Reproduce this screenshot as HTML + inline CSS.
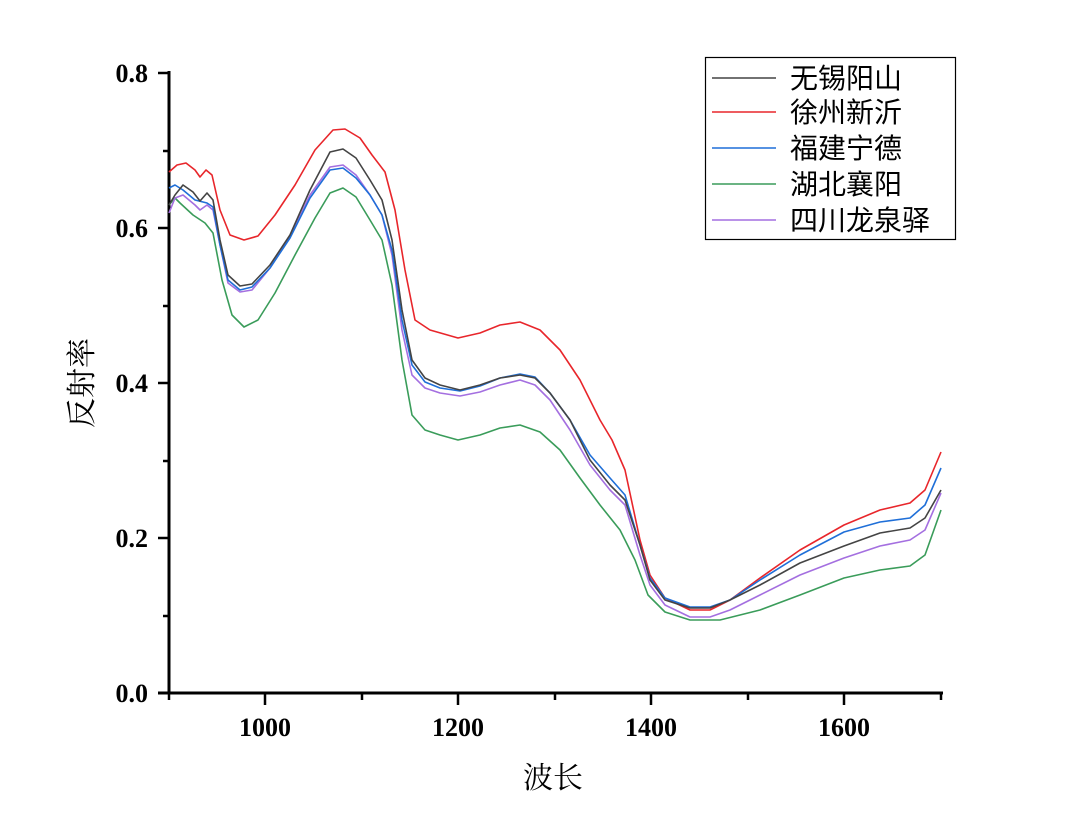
<!DOCTYPE html>
<html><head><meta charset="utf-8"><style>body{margin:0;background:#fff}</style></head><body>
<svg width="1080" height="819" xmlns="http://www.w3.org/2000/svg">
<g stroke="#000" stroke-width="3" fill="none">
<line x1="169" y1="71" x2="169" y2="694"/>
<line x1="158" y1="693" x2="943" y2="693"/>
</g>
<g stroke="#000" stroke-width="2.5">
<line x1="158" y1="73" x2="169" y2="73"/><line x1="158" y1="228" x2="169" y2="228"/><line x1="158" y1="383" x2="169" y2="383"/><line x1="158" y1="538" x2="169" y2="538"/>
<line x1="163" y1="151" x2="169" y2="151"/><line x1="163" y1="306" x2="169" y2="306"/><line x1="163" y1="461" x2="169" y2="461"/><line x1="163" y1="616" x2="169" y2="616"/>
<line x1="265" y1="693" x2="265" y2="705"/><line x1="458" y1="693" x2="458" y2="705"/><line x1="651" y1="693" x2="651" y2="705"/><line x1="844" y1="693" x2="844" y2="705"/>
<line x1="169" y1="693" x2="169" y2="700"/><line x1="362" y1="693" x2="362" y2="700"/><line x1="555" y1="693" x2="555" y2="700"/><line x1="748" y1="693" x2="748" y2="700"/><line x1="941" y1="693" x2="941" y2="700"/>
</g>
<g font-family="'Liberation Serif', serif" font-weight="bold" font-size="26" text-anchor="end">
<text x="148" y="82">0.8</text><text x="148" y="237">0.6</text><text x="148" y="392">0.4</text><text x="148" y="547">0.2</text><text x="148" y="702">0.0</text>
</g>
<g font-family="'Liberation Serif', serif" font-weight="bold" font-size="26" text-anchor="middle">
<text x="265" y="736">1000</text><text x="458" y="736">1200</text><text x="651" y="736">1400</text><text x="844" y="736">1600</text>
</g>
<text x="553" y="788" font-family="'Noto Serif CJK SC', serif" font-size="30" text-anchor="middle">波长</text>
<text transform="translate(92,383) rotate(-90)" font-family="'Noto Serif CJK SC', serif" font-size="30" text-anchor="middle">反射率</text>
<g fill="none" stroke-width="1.6" stroke-linejoin="round">
<polyline stroke="#e8262b" points="169,172 177,165 186,163 195,170 200,177 206,170 212,175 220,210 230,235 244,240 258,236 275,215 295,185 315,150 333,130 345,129 360,138 372,155 385,172 395,210 405,270 415,320 430,330 458,338 480,333 500,325 520,322 540,330 560,350 580,380 600,420 612,440 625,470 640,540 650,575 665,598 690,610 710,610 730,600 760,578 800,550 844,525 880,510 910,503 925,490 941,452"/>
<polyline stroke="#3a9c5a" points="169,205 175,198 180,203 193,215 205,223 213,233 222,280 232,315 244,327 258,320 275,293 295,255 315,218 330,193 343,188 356,197 370,220 382,240 392,285 402,360 412,415 425,430 440,435 458,440 480,435 500,428 520,425 540,432 560,450 580,478 600,505 620,530 635,560 648,595 665,612 690,620 720,620 760,610 800,595 844,578 880,570 910,566 925,555 941,510"/>
<polyline stroke="#a46fe0" points="169,213 175,198 183,195 195,205 200,210 207,205 213,210 220,245 228,283 240,292 252,290 270,268 290,237 310,195 330,167 343,165 356,175 370,195 382,215 392,255 402,330 412,375 425,388 440,393 460,396 480,392 500,385 520,380 535,385 550,400 570,430 590,465 610,490 625,505 640,555 650,585 665,605 690,617 710,617 730,610 760,595 800,575 844,558 880,546 910,540 925,530 941,493"/>
<polyline stroke="#1f6fd8" points="169,188 175,185 183,190 195,200 207,203 213,207 220,245 228,280 240,290 252,287 270,268 290,238 310,198 330,170 343,168 356,178 370,195 382,215 392,250 402,320 412,365 425,382 440,388 460,391 480,386 500,378 520,374 535,377 550,393 570,420 590,455 610,478 625,495 640,545 650,578 665,598 690,607 710,607 730,600 760,580 800,555 844,532 880,522 910,518 925,505 941,468"/>
<polyline stroke="#444" points="169,205 175,195 183,185 193,192 200,201 207,193 213,200 220,240 228,275 240,286 252,284 270,265 290,235 310,190 330,152 343,149 356,158 370,180 382,200 392,240 402,310 412,360 425,378 440,385 460,390 480,385 500,378 520,375 535,378 550,393 570,420 590,460 610,485 625,500 640,545 650,580 665,600 690,608 710,608 730,600 760,585 800,563 844,546 880,533 910,528 925,518 941,490"/>
</g>
<rect x="705.5" y="57.5" width="250" height="182" fill="#fff" stroke="#000" stroke-width="1.2"/>
<g stroke-width="1.6">
<line x1="712" y1="78" x2="776" y2="78" stroke="#444"/>
<line x1="712" y1="112" x2="776" y2="112" stroke="#e8262b"/>
<line x1="712" y1="148" x2="776" y2="148" stroke="#1f6fd8"/>
<line x1="712" y1="184" x2="776" y2="184" stroke="#3a9c5a"/>
<line x1="712" y1="220" x2="776" y2="220" stroke="#a46fe0"/>
</g>
<g font-family="'Noto Sans CJK SC', sans-serif" font-size="28">
<text x="790" y="88">无锡阳山</text><text x="790" y="122">徐州新沂</text><text x="790" y="158">福建宁德</text><text x="790" y="194">湖北襄阳</text><text x="790" y="230">四川龙泉驿</text>
</g>
</svg>
</body></html>
